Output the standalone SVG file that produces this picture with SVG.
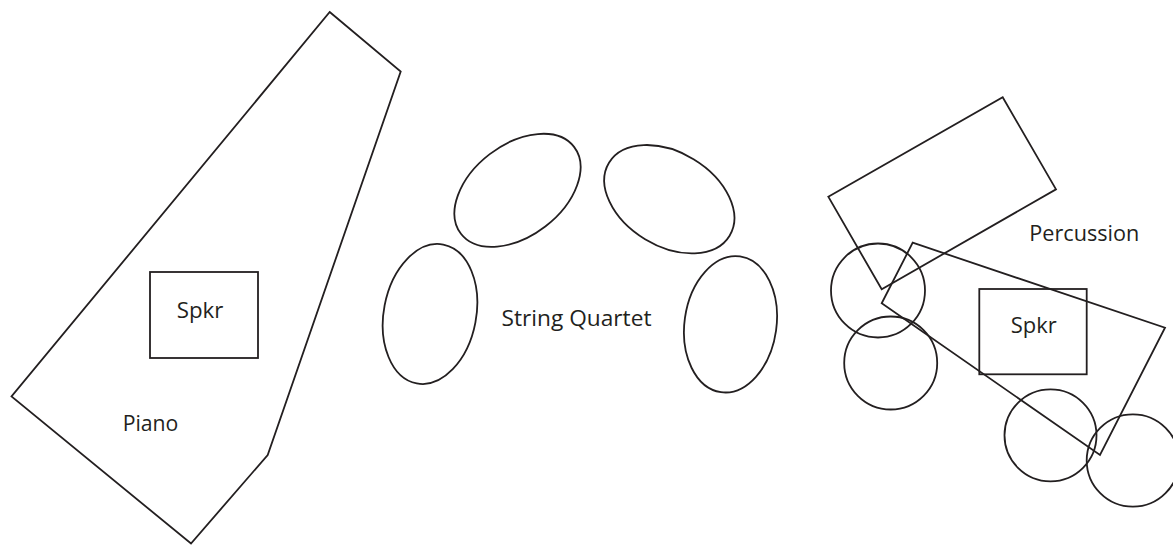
<svg xmlns="http://www.w3.org/2000/svg" width="1173" height="545" viewBox="0 0 1173 545">
<style>
.s{fill:none;stroke:#231f20;stroke-width:1.8;stroke-linejoin:miter}
.t{font-family:"Open Sans","Liberation Sans",Arial,sans-serif;font-size:21px;fill:#231f20}
</style>
<rect width="1173" height="545" fill="#ffffff"/>
<g id="piano">
<polygon class="s" points="329.7,12 400.7,71.5 267.7,455 191,543.5 11.5,396.5"/>
<rect class="s" x="150" y="272" width="108" height="86"/>
<text class="t" x="176.7" y="317.7" textLength="46.7" lengthAdjust="spacingAndGlyphs">Spkr</text>
<text class="t" x="122.7" y="430.7" textLength="55.7" lengthAdjust="spacingAndGlyphs">Piano</text>
</g>
<g id="string-quartet">
<ellipse class="s" cx="0" cy="0" rx="71.3" ry="45.6" transform="translate(517.5,190.3) rotate(-37.5)"/>
<ellipse class="s" cx="0" cy="0" rx="70.5" ry="46.8" transform="translate(669.3,199.2) rotate(31.2)"/>
<ellipse class="s" cx="0" cy="0" rx="46.2" ry="70.7" transform="translate(430,314) rotate(10.8)"/>
<ellipse class="s" cx="0" cy="0" rx="46" ry="68.5" transform="translate(730.5,324.3) rotate(8)"/>
<text class="t" x="501.5" y="326" font-size="22" textLength="150" lengthAdjust="spacingAndGlyphs">String Quartet</text>
</g>
<g id="percussion">
<polygon class="s" points="828.3,196.7 1002.7,97.3 1056,189.3 881.7,289.3"/>
<polygon class="s" points="912.7,242.7 1165,327.7 1100,455 881.7,303.3"/>
<rect class="s" x="979.3" y="289" width="107.4" height="85.3"/>
<circle class="s" cx="878" cy="290.5" r="47"/>
<circle class="s" cx="890.7" cy="363" r="46.5"/>
<circle class="s" cx="1050.5" cy="435.3" r="46"/>
<circle class="s" cx="1132.9" cy="460.5" r="46.2"/>
<text class="t" x="1010.7" y="333.3" textLength="46" lengthAdjust="spacingAndGlyphs">Spkr</text>
<text class="t" x="1029.3" y="240.7" textLength="110" lengthAdjust="spacingAndGlyphs">Percussion</text>
</g>
<g id="connectors"/>
</svg>
